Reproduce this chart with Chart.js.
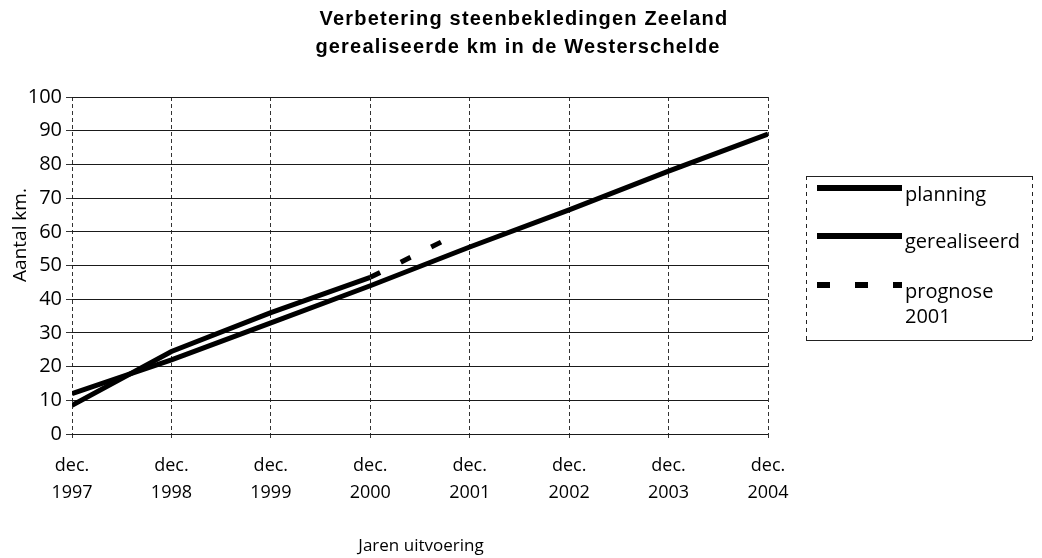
<!DOCTYPE html>
<html>
<head>
<meta charset="utf-8">
<script src="https://cdn.jsdelivr.net/npm/chart.js@4/dist/chart.umd.min.js"></script>
<style>
  html, body { margin: 0; padding: 0; background: #ffffff; }
  #wrap { width: 1042px; height: 558px; }
</style>
</head>
<body>
<div id="wrap"><canvas id="c" width="1042" height="558"></canvas></div>
<script>
// ---- data ----
const titleLines = ['Verbetering steenbekledingen Zeeland', 'gerealiseerde km in de Westerschelde'];
const yearLabels = ['1997', '1998', '1999', '2000', '2001', '2002', '2003', '2004'];
const monthLabel = 'dec.';
const planningValues = [12, 22, 33, 44, 55.5, 66.5, 78, 89];
const gerealiseerdValues = [8.5, 24.5, 36, 46.5];
const prognoseX = [3, 3.75];
const prognoseValues = [46.5, 57.5];
const seriesNames = ['planning', 'gerealiseerd', 'prognose 2001'];
const yAxisTitle = 'Aantal km.';
const xAxisTitle = 'Jaren uitvoering';

const FONT = '"Open Sans", "DejaVu Sans", sans-serif';

function toPoints(xs, ys) { return ys.map((v, i) => ({ x: xs[i], y: v })); }
const idx = yearLabels.map((_, i) => i);

const textPlugin = {
  id: 'texts',
  afterDraw(chart) {
    const ctx = chart.ctx;
    ctx.save();
    // Title
    ctx.fillStyle = '#000';
    ctx.font = 'bold 20px "Liberation Sans", Arial, sans-serif';
    ctx.letterSpacing = '1.2px';
    ctx.textAlign = 'center';
    ctx.textBaseline = 'middle';
    ctx.fillText(titleLines[0], 524, 19);
    ctx.fillText(titleLines[1], 518, 47);
    ctx.letterSpacing = '0px';
    // Axis titles
    ctx.font = '17px ' + FONT;
    ctx.fillText(xAxisTitle, 421, 546);
    ctx.save();
    ctx.translate(21, 235);
    ctx.rotate(-Math.PI / 2);
    ctx.font = '19px ' + FONT;
    ctx.fillText(yAxisTitle, 0, 0);
    ctx.restore();

    // Legend
    const lx = 806, ly = 176, lw = 226, lh = 164;
    ctx.strokeStyle = '#222';
    ctx.lineWidth = 1;
    ctx.setLineDash([]);
    ctx.beginPath();
    ctx.moveTo(lx, ly + 0.5); ctx.lineTo(lx + lw, ly + 0.5);
    ctx.moveTo(lx, ly + lh + 0.5); ctx.lineTo(lx + lw, ly + lh + 0.5);
    ctx.stroke();
    ctx.setLineDash([4, 4]);
    ctx.beginPath();
    ctx.moveTo(lx + 0.5, ly); ctx.lineTo(lx + 0.5, ly + lh);
    ctx.moveTo(lx + lw + 0.5, ly); ctx.lineTo(lx + lw + 0.5, ly + lh);
    ctx.stroke();

    const rows = [188, 236, 285];
    chart.data.datasets.forEach((ds, i) => {
      ctx.strokeStyle = ds.borderColor;
      ctx.lineWidth = 6;
      ctx.setLineDash(ds.borderDash ? [13, 25] : []);
      ctx.lineCap = 'butt';
      ctx.beginPath();
      ctx.moveTo(817, rows[i]);
      ctx.lineTo(902, rows[i]);
      ctx.stroke();
    });
    ctx.setLineDash([]);
    ctx.fillStyle = '#000';
    ctx.font = '20px ' + FONT;
    ctx.textAlign = 'left';
    ctx.textBaseline = 'middle';
    ctx.fillText(seriesNames[0], 905, 195);
    ctx.fillText(seriesNames[1], 905, 242);
    const parts = seriesNames[2].split(' ');
    ctx.fillText(parts[0], 905, 292);
    ctx.fillText(parts[1], 905, 317);
    ctx.restore();
  }
};

new Chart(document.getElementById('c'), {
  type: 'line',
  data: {
    datasets: [
      {
        label: seriesNames[0],
        data: toPoints(idx, planningValues),
        borderColor: '#000', borderWidth: 5, pointRadius: 0, tension: 0, fill: false
      },
      {
        label: seriesNames[1],
        data: toPoints(idx, gerealiseerdValues),
        borderColor: '#000', borderWidth: 5, pointRadius: 0, tension: 0, fill: false
      },
      {
        label: seriesNames[2],
        data: toPoints(prognoseX, prognoseValues),
        borderColor: '#000', borderWidth: 5, borderDash: [11, 23], pointRadius: 0, tension: 0, fill: false
      }
    ]
  },
  options: {
    responsive: false,
    animation: false,
    devicePixelRatio: 1,
    layout: { padding: { top: 97, right: 274, left: 0, bottom: 0 } },
    plugins: {
      legend: { display: false },
      title: { display: false },
      tooltip: { enabled: false }
    },
    scales: {
      x: {
        type: 'linear',
        min: 0, max: 7,
        ticks: {
          stepSize: 1,
          color: '#000',
          font: { family: FONT, size: 18, lineHeight: 1.5 },
          padding: 14,
          maxRotation: 0,
          callback: (v) => [monthLabel, yearLabels[v]]
        },
        grid: { color: '#333', lineWidth: 1, tickLength: 4, tickColor: '#333' },
        border: { display: false, dash: [4, 3] },
        afterFit: (s) => { s.height = 124; }
      },
      y: {
        min: 0, max: 100,
        ticks: {
          stepSize: 10,
          color: '#000',
          font: { family: FONT, size: 20 },
          padding: 4
        },
        grid: { color: '#1a1a1a', lineWidth: 1, tickLength: 6, tickColor: '#333' },
        border: { display: false },
        afterFit: (s) => { s.width = 72; }
      }
    }
  },
  plugins: [textPlugin]
});
</script>
</body>
</html>
